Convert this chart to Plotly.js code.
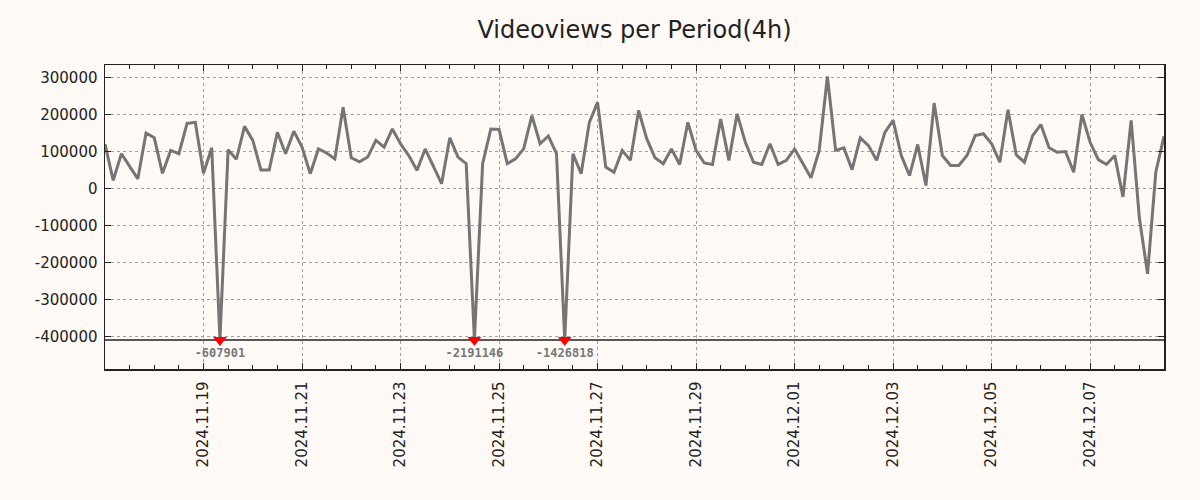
<!DOCTYPE html>
<html>
<head>
<meta charset="utf-8">
<script src="https://cdn.plot.ly/plotly-3.0.1.min.js"></script>
<style>
  body { margin: 0; background: #fffaf5; }
  #plot { width: 1200px; height: 500px; }
</style>
</head>
<body>
<div id="plot"></div>
<script>
// first period and period length (4h)
const startTime = Date.UTC(2024, 10, 17, 0, 0);
const periodHours = 4;

// videoviews per period
const views = [
  120000, 22000, 94000, 60000, 26000, 150000, 137000, 41000, 103000, 94000,
  176000, 179000, 41000, 110000, -607901, 105000, 79000, 168000, 130000, 50000,
  50000, 152000, 94000, 155000, 112000, 40000, 107000, 96000, 80000, 220000,
  83000, 72000, 85000, 130000, 112000, 161000, 121000, 89000, 49000, 107000,
  60000, 13000, 137000, 85000, 67000, -2191146, 67000, 161000, 160000, 67000,
  80000, 107000, 197000, 121000, 142000, 94000, -1426818, 94000, 40000, 179000,
  233000, 58000, 44000, 103000, 76000, 211000, 134000, 83000, 67000, 107000,
  65000, 179000, 103000, 69000, 65000, 188000, 76000, 202000, 125000, 71000,
  65000, 121000, 65000, 76000, 107000, 69000, 29000, 103000, 303000, 103000,
  110000, 51000, 137000, 116000, 76000, 152000, 184000, 89000, 35000, 119000,
  8000, 231000, 89000, 62000, 62000, 89000, 143000, 148000, 121000, 71000,
  213000, 91000, 71000, 143000, 173000, 110000, 98000, 100000, 44000, 200000,
  125000, 78000, 65000, 89000, -23000, 184000, -80000, -231000, 44000, 141000
];

// values below this are cut off and marked
const clipLevel = -410000;
const yRange = [-488600, 334100];
const yTickVals = [-400000, -300000, -200000, -100000, 0, 100000, 200000, 300000];
const xTickVals = [
  "2024-11-19", "2024-11-21", "2024-11-23", "2024-11-25", "2024-11-27",
  "2024-11-29", "2024-12-01", "2024-12-03", "2024-12-05", "2024-12-07"
];

// build timestamps for each period
function periodTime(i) {
  let d = new Date(startTime + i * periodHours * 3600 * 1000);
  return d.toISOString().slice(0, 16).replace("T", " ");
}

let times = views.map((v, i) => periodTime(i));
let clipped = views.map((v) => Math.max(v, clipLevel));

// points that fall below the visible range
let cutX = [];
let cutY = [];
let cutText = [];
views.forEach((v, i) => {
  if (v < clipLevel) {
    cutX.push(times[i]);
    cutY.push(clipLevel);
    cutText.push(String(v));
  }
});

let data = [
  {
    x: times,
    y: clipped,
    type: "scatter",
    mode: "lines",
    line: { color: "#757575", width: 3 },
    hoverinfo: "x+y",
  },
  {
    x: cutX,
    y: cutY,
    type: "scatter",
    mode: "markers+text",
    marker: { symbol: "triangle-down", color: "#ff0000", size: 12 },
    text: cutText,
    textposition: "bottom center",
    textfont: { family: "DejaVu Sans Mono, monospace", size: 12, color: "#777777", weight: "bold" },
    cliponaxis: false,
  },
];

let layout = {
  width: 1200,
  height: 500,
  showlegend: false,
  paper_bgcolor: "#fffaf5",
  plot_bgcolor: "#fffaf5",
  margin: { l: 105, r: 36, t: 65, b: 131 },
  font: { family: "DejaVu Sans, sans-serif", color: "#222222" },
  title: {
    text: "Videoviews per Period(4h)",
    font: { size: 24, color: "#222222" },
    x: 0.5,
    xref: "paper",
    xanchor: "center",
    y: 0.94,
    yanchor: "middle",
  },
  xaxis: {
    type: "date",
    range: [times[0], times[times.length - 1]],
    tickvals: xTickVals,
    tickformat: "%Y.%m.%d",
    tickangle: -90,
    tickfont: { size: 15, color: "#222222" },
    ticks: "inside",
    ticklen: 6,
    tickcolor: "#222222",
    ticklabelstandoff: 5,
    showline: true,
    linecolor: "#222222",
    linewidth: 1.5,
    mirror: "allticks",
    showgrid: true,
    gridcolor: "#a0a0a0",
    griddash: "dot",
    gridwidth: 1,
    zeroline: false,
    minor: { dtick: 12 * 3600000, ticks: "inside", ticklen: 4, tickcolor: "#222222", showgrid: false },
  },
  yaxis: {
    range: yRange,
    tickvals: yTickVals,
    ticktext: yTickVals.map((v) => String(v)),
    tickfont: { size: 15, color: "#222222" },
    ticks: "inside",
    ticklen: 6,
    tickcolor: "#222222",
    ticklabelstandoff: 3,
    showline: true,
    linecolor: "#222222",
    linewidth: 1.5,
    mirror: "allticks",
    showgrid: true,
    gridcolor: "#a0a0a0",
    griddash: "dot",
    gridwidth: 1,
    zeroline: false,
  },
  shapes: [
    {
      type: "line",
      xref: "paper",
      x0: 0,
      x1: 1,
      yref: "y",
      y0: clipLevel,
      y1: clipLevel,
      line: { color: "#222222", width: 1.5 },
      layer: "below",
    },
  ],
};

Plotly.newPlot("plot", data, layout, { displayModeBar: false, staticPlot: true });
</script>
</body>
</html>
